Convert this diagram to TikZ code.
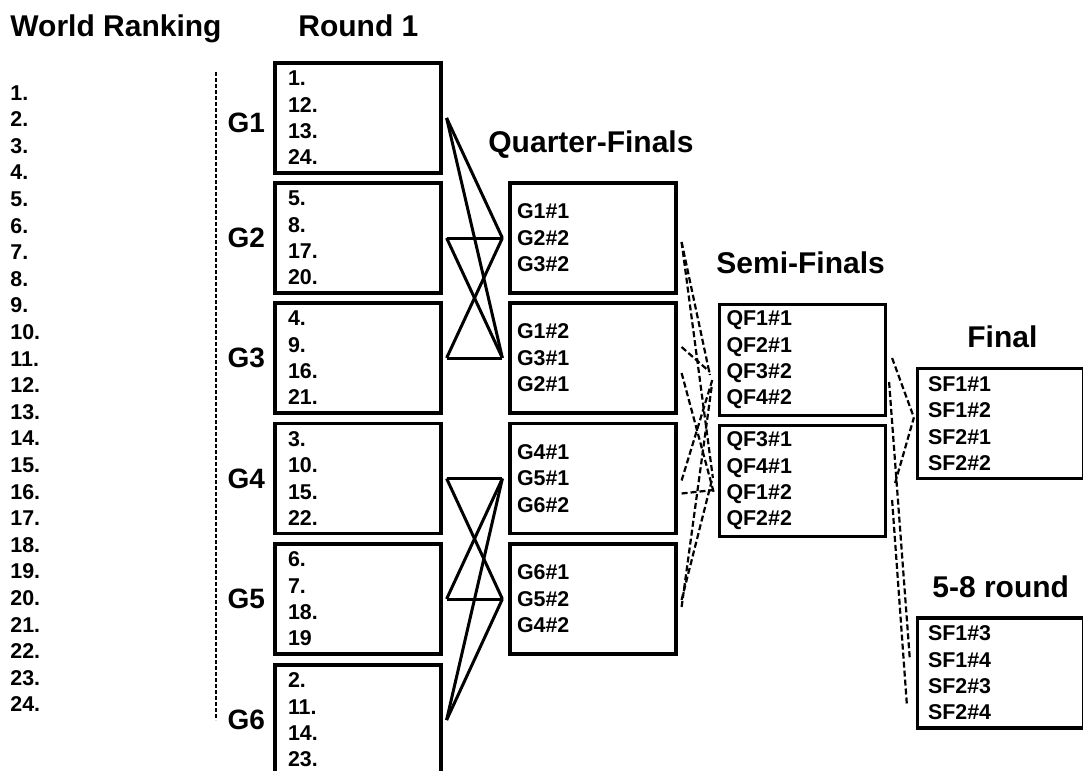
\documentclass[tikz,border=0pt]{standalone}
\usepackage{fontspec}
\setmainfont{Liberation Sans}
\usetikzlibrary{calc, positioning}

\tikzset{
  head/.style={anchor=base west, inner sep=0pt, font=\fontsize{15}{16}\selectfont\bfseries},
  rank/.style={anchor=base west, inner sep=0pt, font=\fontsize{10.7}{12}\selectfont\bfseries},
  grp/.style={draw, line width=1.6pt, minimum width=83pt, minimum height=55pt, text width=70pt,
    inner xsep=6.5pt, align=left, font=\fontsize{10.7}{13.2}\selectfont\bfseries},
  res/.style={grp, text width=76pt, inner xsep=3.5pt},
  glab/.style={left=4pt of #1, inner sep=0pt, font=\fontsize{14}{16}\selectfont\bfseries},
  link/.style={line width=1.5pt, line join=miter},
  dlink/.style={line width=1.1pt, dash pattern=on 3pt off 1.5pt},
}

\begin{document}
\begin{tikzpicture}[x=0.5pt, y=-0.5pt]
\useasboundingbox (0,0) rectangle (1083,771);

% titles
\node[head] (wr) at (10,36) {World Ranking};
\node[head] (rd) at (298,36) {Round 1};
\node[head] (qft) at (488,152) {Quarter-Finals};
\node[head] (sft) at (716,273) {Semi-Finals};
\node[head] (ft) at (967,347) {Final};
\node[head] (fet) at (932,597) {5-8 round};

% world ranking
\foreach \i in {1,...,24}
  \node[rank] (w\i) at (10,{100+26.6*(\i-1)}) {\i.};
\draw[line width=0.9pt, dash pattern=on 2pt off 1pt] (216,72) -- (216,720);

% round 1
\node[grp] (g1) at (358,118) {1.\\12.\\13.\\24.};
\node[grp] (g2) at (358,238) {5.\\8.\\17.\\20.};
\node[grp] (g3) at (358,358) {4.\\9.\\16.\\21.};
\node[grp] (g4) at (358,478.5) {3.\\10.\\15.\\22.};
\node[grp] (g5) at (358,599) {6.\\7.\\18.\\19};
\node[grp] (g6) at (358,720) {2.\\11.\\14.\\23.};
\node[glab=g1, yshift=-2.5pt] (l1) {G1};
\foreach \i in {2,...,6}
  \node[glab=g\i] (l\i) {G\i};

% quarter-finals
\node[res] (qf1) at (593,238) {G1\#1\\G2\#2\\G3\#2};
\node[res] (qf2) at (593,358) {G1\#2\\G3\#1\\G2\#1};
\node[res] (qf3) at (593,478.5) {G4\#1\\G5\#1\\G6\#2};
\node[res] (qf4) at (593,599) {G6\#1\\G5\#2\\G4\#2};

% semi-finals
\node[res] (sf1) at (802.5,360) {QF1\#1\\QF2\#1\\QF3\#2\\QF4\#2};
\node[res] (sf2) at (802.5,481) {QF3\#1\\QF4\#1\\QF1\#2\\QF2\#2};

% final, 5-8
\node[res, text width=72.5pt, inner xsep=4.5pt] (fin) at (1000.5,423.5) {SF1\#1\\SF1\#2\\SF2\#1\\SF2\#2};
\node[res, text width=72.5pt, inner xsep=4.5pt] (fifth) at (1000.5,673) {SF1\#3\\SF1\#4\\SF2\#3\\SF2\#4};

% round 1 -> quarter-finals
\foreach \g/\q in {g1/qf1, g1/qf2, g2/qf1, g2/qf2, g3/qf1, g3/qf2,
                   g4/qf3, g4/qf4, g5/qf3, g5/qf4, g6/qf3, g6/qf4}
  \draw[link] ([xshift=2pt]\g.east) -- ([xshift=-3pt]\q.west);

% quarter-finals -> semi-finals
\draw[dlink] ($(qf1.east)+(4,4)$) -- ($(sf1.west)+(-8,15)$);
\draw[dlink] ($(qf1.east)+(4,4)$) -- ($(sf2.west)+(-5,-3)$);
\draw[dlink] ($(qf2.east)+(4,-11)$) -- ($(sf1.west)+(-8,12)$);
\draw[dlink] ($(qf2.east)+(4,15)$) -- ($(sf2.west)+(-4,12)$);
\draw[dlink] ($(qf3.east)+(4,2)$) -- ($(sf1.west)+(-5,18)$);
\draw[dlink] ($(qf3.east)+(4,15)$) -- ($(sf2.west)+(-4,9)$);
\draw[dlink] ($(qf4.east)+(4,8)$) -- ($(sf1.west)+(-6,25)$);
\draw[dlink] ($(qf4.east)+(4,1)$) -- ($(sf2.west)+(-6,-1)$);

% semi-finals -> final, 5-8
\draw[dlink] ($(sf1.east)+(5,-2)$) -- ($(fin.west)+(-2,-6)$);
\draw[dlink] ($(sf2.east)+(8,2)$) -- ($(fin.west)+(-2,-6)$);
\draw[dlink] ($(sf1.east)+(2,22)$) -- ($(fifth.west)+(-6,-13)$);
\draw[dlink] ($(sf2.east)+(5,19)$) -- ($(fifth.west)+(-9,32)$);

\end{tikzpicture}
\end{document}
